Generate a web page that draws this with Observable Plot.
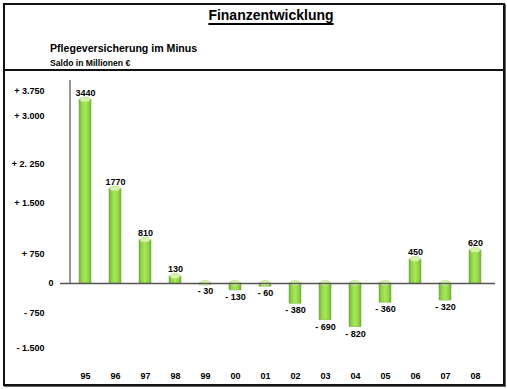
<!DOCTYPE html>
<html><head><meta charset="utf-8">
<script src="https://cdn.jsdelivr.net/npm/d3@7"></script>
<script src="https://cdn.jsdelivr.net/npm/@observablehq/plot@0.6"></script>
<style>
body{margin:0;background:#fff;font-family:"Liberation Sans",Arial,sans-serif;}
#frame{position:absolute;left:3px;top:3px;width:498px;height:379px;border:2px solid #111;box-shadow:1px 1px 0 #666;background:#fff;}
#header{position:relative;height:64px;border-bottom:2px solid #111;}
#title{position:absolute;left:0;right:0;top:2px;text-align:center;padding-left:34px;font-size:14px;font-weight:bold;line-height:16px;text-decoration:underline;text-decoration-thickness:2px;text-underline-offset:3px;}
#sub{position:absolute;left:45px;top:37px;font-size:10.6px;font-weight:bold;line-height:12px;}
#unit{position:absolute;left:45px;top:54px;font-size:8.6px;font-weight:bold;line-height:9px;}
#chart svg{display:block;}
</style>
</head><body>
<div id="frame">
  <div id="header">
    <div id="title">Finanzentwicklung</div>
    <div id="sub">Pflegeversicherung im Minus</div>
    <div id="unit">Saldo in Millionen €</div>
  </div>
  <div id="chart"></div>
</div>
<script>
const years = ["95","96","97","98","99","00","01","02","03","04","05","06","07","08"];
const saldo = [3440, 1770, 810, 130, -30, -130, -60, -380, -690, -820, -360, 450, -320, 620];
const tickValues = [3600, 3130, 2230, 1500, 560, 0, -560, -1220];
const tickLabels = ["+ 3.750", "+ 3.000", "+ 2. 250", "+ 1.500", "+ 750", "0", "- 750", "- 1.500"];

const data = years.map((y, i) => ({year: y, value: saldo[i]}));
const labelOf = new Map(tickValues.map((v, i) => [v, tickLabels[i]]));
const fmt = v => v < 0 ? "- " + Math.abs(v) : String(v);
const NS = "http://www.w3.org/2000/svg";

const defs = () => {
  const d = document.createElementNS(NS, "defs");
  d.innerHTML = `<linearGradient id="barGrad" x1="0" x2="1" y1="0" y2="0">
    <stop offset="0" stop-color="#6cae30"/>
    <stop offset="0.2" stop-color="#8fd444"/>
    <stop offset="0.5" stop-color="#ace55f"/>
    <stop offset="0.8" stop-color="#8fd444"/>
    <stop offset="1" stop-color="#6cae30"/>
  </linearGradient>`;
  return d;
};

const yAxisLine = (index, scales, values, dims) => {
  const l = document.createElementNS(NS, "line");
  l.setAttribute("x1", dims.marginLeft);
  l.setAttribute("x2", dims.marginLeft);
  l.setAttribute("y1", dims.marginTop - 3);
  l.setAttribute("y2", scales.y(0));
  l.setAttribute("stroke", "#555");
  l.setAttribute("stroke-width", 1.2);
  return l;
};

const chart = Plot.plot({
  width: 498,
  height: 313,
  marginLeft: 65,
  marginRight: 12,
  marginTop: 12,
  marginBottom: 21,
  x: {type: "band", domain: years, paddingInner: 0.59, paddingOuter: 0.1775, label: null},
  y: {domain: [-1500, 3750], label: null},
  style: {fontFamily: "'Liberation Sans', Arial, sans-serif", fontSize: "9px", fontWeight: "bold", color: "#000", background: "transparent"},
  marks: [
    defs,
    Plot.barY(data, {x: "year", y: "value", fill: "url(#barGrad)", stroke: "#78b54a", strokeWidth: 0.5}),
    Plot.barY(data, {x: "year", y1: d => Math.max(0, d.value), y2: d => Math.max(0, d.value), insetTop: -2.5, insetBottom: -2.5, insetLeft: 1, insetRight: 1, rx: 6, fill: "#d8f2ae", stroke: "#a5d66c", strokeWidth: 0.5}),
    Plot.ruleY([0], {stroke: "#555", strokeWidth: 1.3, insetLeft: -10, insetRight: -4}),
    yAxisLine,
    Plot.axisY(tickValues.filter(v => v !== 0), {tickSize: 0, tickPadding: 26, tickFormat: v => labelOf.get(v), label: null}),
    Plot.axisY([0], {tickSize: 0, tickPadding: 17, tickFormat: () => "0", label: null}),
    Plot.axisX({tickSize: 0, tickPadding: 9, label: null}),
    Plot.text(data.filter(d => d.value >= 0), {x: "year", y: "value", text: d => fmt(d.value), dy: -7, lineAnchor: "middle", fill: "#000"}),
    Plot.text(data.filter(d => d.value < 0), {x: "year", y: "value", text: d => fmt(d.value), dy: 6.5, lineAnchor: "middle", fill: "#000"})
  ]
});
document.getElementById("chart").appendChild(chart);
</script>
</body></html>
